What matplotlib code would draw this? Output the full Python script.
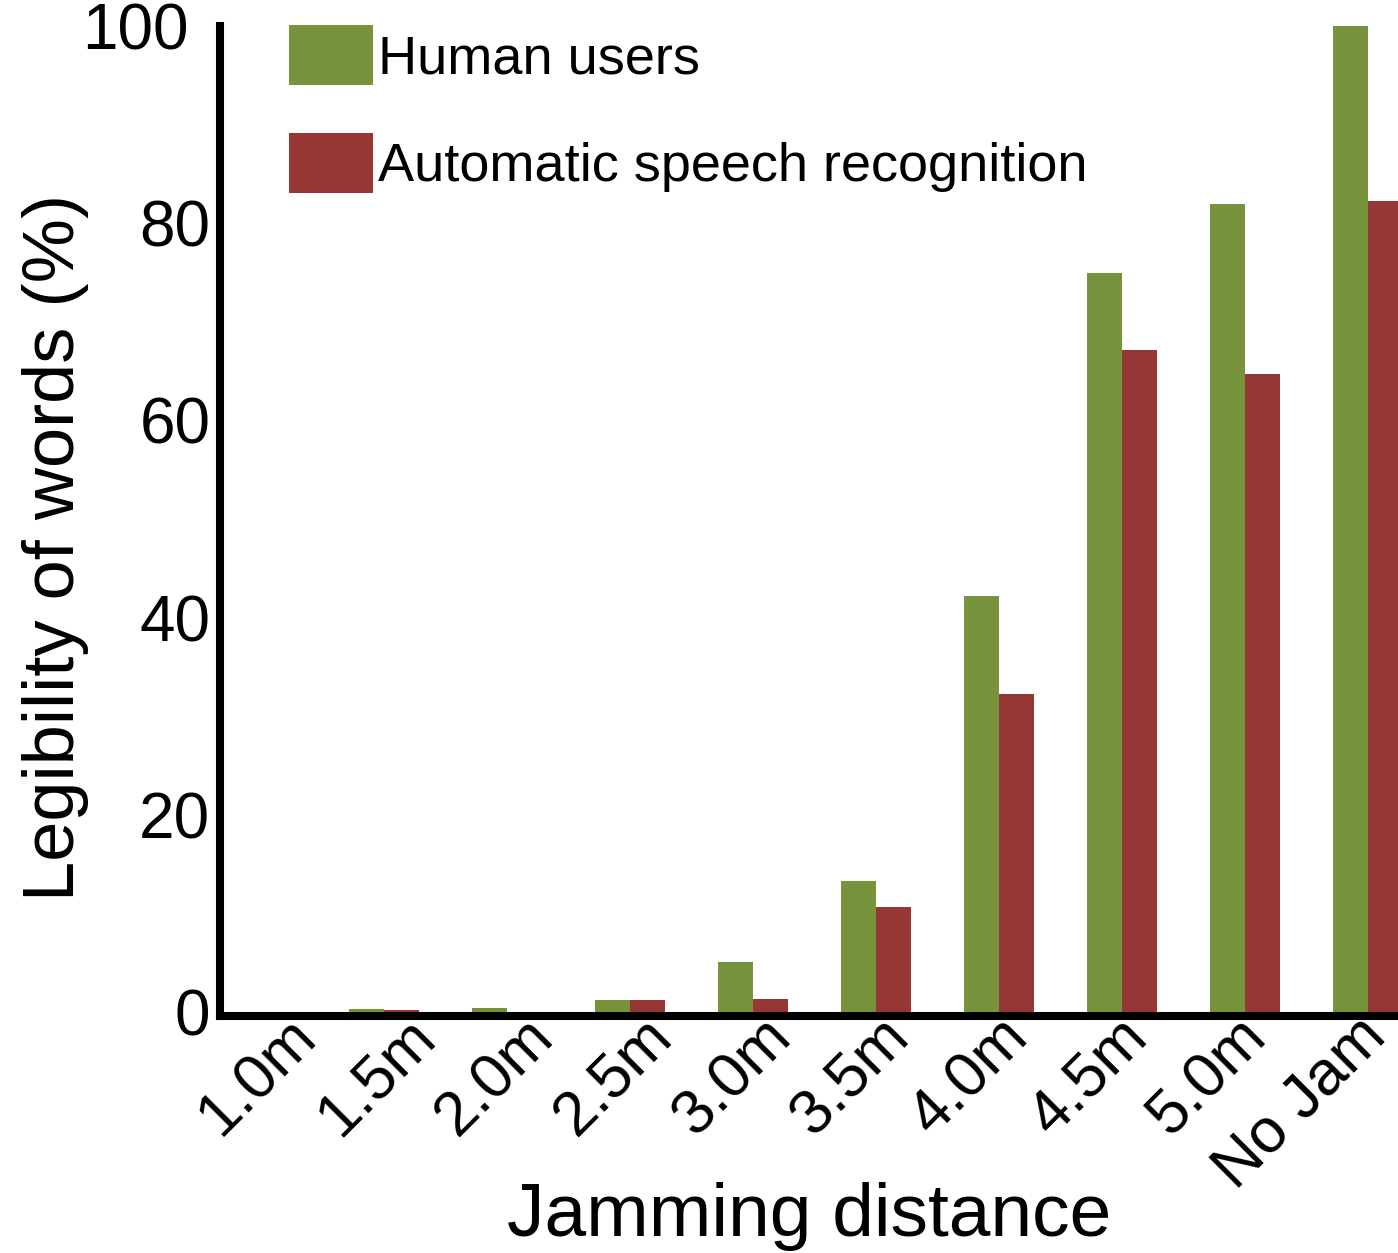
import numpy as np
import matplotlib
matplotlib.use('Agg')
import matplotlib.pyplot as plt
import matplotlib.transforms as mtransforms
from matplotlib.patches import Patch

# data
distances = ['1.0m', '1.5m', '2.0m', '2.5m', '3.0m', '3.5m', '4.0m', '4.5m', '5.0m', 'No Jam']
human_users = [0.0, 0.3, 0.4, 1.2, 5.1, 13.3, 42.2, 74.9, 81.9, 100.0]
asr = [0.0, 0.2, 0.05, 1.2, 1.3, 10.7, 32.3, 67.1, 64.7, 82.3]
series_names = ['Human users', 'Automatic speech recognition']
yticks = [0, 20, 40, 60, 80, 100]

green = '#77933C'
red = '#953735'

plt.rcParams['font.family'] = ['Liberation Sans', 'DejaVu Sans']

fig = plt.figure(figsize=(13.98, 12.53), dpi=100)
ax = fig.add_axes([0.1574, 0.18915, 0.8426, 0.7901])

x = np.arange(len(distances))
w = 0.285
ax.bar(x - w / 2, human_users, w, color=green, linewidth=0)
ax.bar(x + w / 2, asr, w, color=red, linewidth=0)

ax.set_xlim(-0.333, 9.244)
ax.set_ylim(-0.4, 100)

for s in ['top', 'right']:
    ax.spines[s].set_visible(False)
for s in ['left', 'bottom']:
    ax.spines[s].set_linewidth(5.8)
    ax.spines[s].set_color('black')

# tick labels sit a bit off the bar groups in the original
label_pos = 0.2 + x * 0.966
ax.set_xticks(label_pos)
ax.set_xticklabels(distances, rotation=45, ha='right', va='top',
                   rotation_mode='anchor', fontsize=45)
ax.set_yticks(yticks)
ax.set_yticklabels([str(v) for v in yticks], fontsize=46)
ax.tick_params(axis='x', length=0, pad=-7)
ax.tick_params(axis='y', length=0, pad=7)

# the "100" label is shifted left in the original
lab = ax.get_yticklabels()[-1]
lab.set_transform(lab.get_transform() +
                  mtransforms.ScaledTranslation(-0.22, 0, fig.dpi_scale_trans))

ax.set_ylabel('Legibility of words (%)', fontsize=52)
ax.yaxis.set_label_coords(-0.111, 0.473)
ax.set_xlabel('Jamming distance', fontsize=54)
ax.xaxis.set_label_coords(0.5, -0.168)

handles = [Patch(facecolor=green, linewidth=0), Patch(facecolor=red, linewidth=0)]
ax.legend(handles, series_names, loc='upper left',
          bbox_to_anchor=(289 / 1398, 1 - 25 / 1253), bbox_transform=fig.transFigure,
          frameon=False, fontsize=39, borderpad=0, borderaxespad=0,
          handlelength=1.55, handleheight=1.33, handletextpad=0.1,
          labelspacing=0.89)

fig.savefig('out.png', dpi=100)
